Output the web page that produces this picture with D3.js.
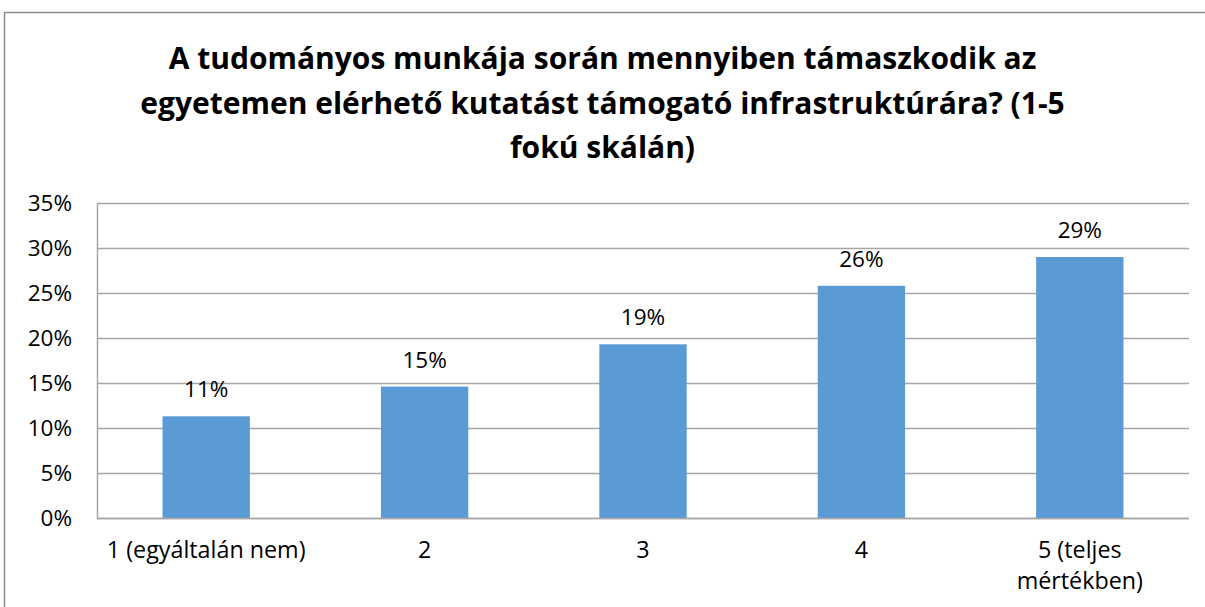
<!DOCTYPE html>
<html>
<head>
<meta charset="utf-8">
<script src="https://cdn.jsdelivr.net/npm/d3@7"></script>
<style>
  body { margin: 0; background: #fff; }
  text { font-family: "Open Sans", "Noto Sans", sans-serif; fill: #000; }
</style>
</head>
<body>
<div id="chart"></div>
<script>
var svgWidth = 1205;
var svgHeight = 607;

// chart data
var titleLines = [
  "A tudományos munkája során mennyiben támaszkodik az",
  "egyetemen elérhető kutatást támogató infrastruktúrára? (1-5",
  "fokú skálán)"
];
var categories = ["1 (egyáltalán nem)", "2", "3", "4", "5 (teljes\nmértékben)"];
var values = [0.113, 0.146, 0.193, 0.258, 0.290];
var yTicks = [0, 0.05, 0.10, 0.15, 0.20, 0.25, 0.30, 0.35];

var margin = { top: 203, right: 16, bottom: 89, left: 97 };
var width = svgWidth - margin.left - margin.right;
var height = svgHeight - margin.top - margin.bottom;

var svg = d3.select("#chart")
  .append("svg")
  .attr("width", svgWidth)
  .attr("height", svgHeight);

// outer chart frame (runs off the right and bottom of the picture)
svg.append("rect")
  .attr("x", 4.5)
  .attr("y", 12.5)
  .attr("width", svgWidth + 20)
  .attr("height", svgHeight + 20)
  .attr("fill", "none")
  .attr("stroke", "#8c8c8c")
  .attr("stroke-width", 1.5);

// title
svg.append("text")
  .attr("x", svgWidth / 2)
  .attr("y", 69)
  .attr("text-anchor", "middle")
  .style("font-size", "30px")
  .style("font-weight", "bold")
  .selectAll("tspan")
  .data(titleLines)
  .enter()
  .append("tspan")
    .attr("x", svgWidth / 2)
    .attr("dy", (d, i) => i === 0 ? 0 : 44.5)
    .text(d => d);

var chartGroup = svg.append("g")
  .attr("transform", `translate(${margin.left}, ${margin.top})`);

var xScale = d3.scaleBand()
  .domain(categories)
  .range([0, width])
  .paddingInner(0.6)
  .paddingOuter(0.3);

var yScale = d3.scaleLinear()
  .domain([0, 0.35])
  .range([height, 0]);

// gridlines
chartGroup.append("g")
  .selectAll("line")
  .data(yTicks)
  .enter()
  .append("line")
    .attr("x1", 0)
    .attr("x2", width)
    .attr("y1", d => Math.round(yScale(d)) + 0.5)
    .attr("y2", d => Math.round(yScale(d)) + 0.5)
    .attr("stroke", "#a6a6a6")
    .attr("stroke-width", 1.5);

// left axis
var leftAxis = d3.axisLeft(yScale)
  .tickValues(yTicks)
  .tickFormat(d3.format(".0%"))
  .tickSize(0)
  .tickPadding(25);

var yAxisG = chartGroup.append("g").call(leftAxis);
yAxisG.select(".domain")
  .attr("stroke", "#a6a6a6")
  .attr("stroke-width", 1.5);
yAxisG.selectAll("text")
  .style("font-size", "22.5px")
  .attr("fill", "#000");

// bars
chartGroup.selectAll("rect.bar")
  .data(values)
  .enter()
  .append("rect")
    .attr("class", "bar")
    .attr("x", (d, i) => xScale(categories[i]))
    .attr("y", d => yScale(d))
    .attr("width", xScale.bandwidth())
    .attr("height", d => height - yScale(d))
    .attr("fill", "#5b9bd5");

// value labels
chartGroup.selectAll("text.val")
  .data(values)
  .enter()
  .append("text")
    .attr("class", "val")
    .attr("x", (d, i) => xScale(categories[i]) + xScale.bandwidth() / 2)
    .attr("y", d => yScale(d) - 19)
    .attr("text-anchor", "middle")
    .style("font-size", "22.5px")
    .text(d => d3.format(".0%")(d));

// bottom axis line
chartGroup.append("line")
  .attr("x1", 0)
  .attr("x2", width)
  .attr("y1", height + 0.5)
  .attr("y2", height + 0.5)
  .attr("stroke", "#a6a6a6")
  .attr("stroke-width", 1.5);

// category labels
var catLabels = chartGroup.selectAll("text.cat")
  .data(categories)
  .enter()
  .append("text")
    .attr("class", "cat")
    .attr("text-anchor", "middle")
    .attr("y", height + 40)
    .style("font-size", "23.3px");

catLabels.selectAll("tspan")
  .data(d => d.split("\n").map(t => ({ cat: d, t: t })))
  .enter()
  .append("tspan")
    .attr("x", d => xScale(d.cat) + xScale.bandwidth() / 2)
    .attr("dy", (d, i) => i === 0 ? 0 : 31)
    .text(d => d.t);
</script>
</body>
</html>
